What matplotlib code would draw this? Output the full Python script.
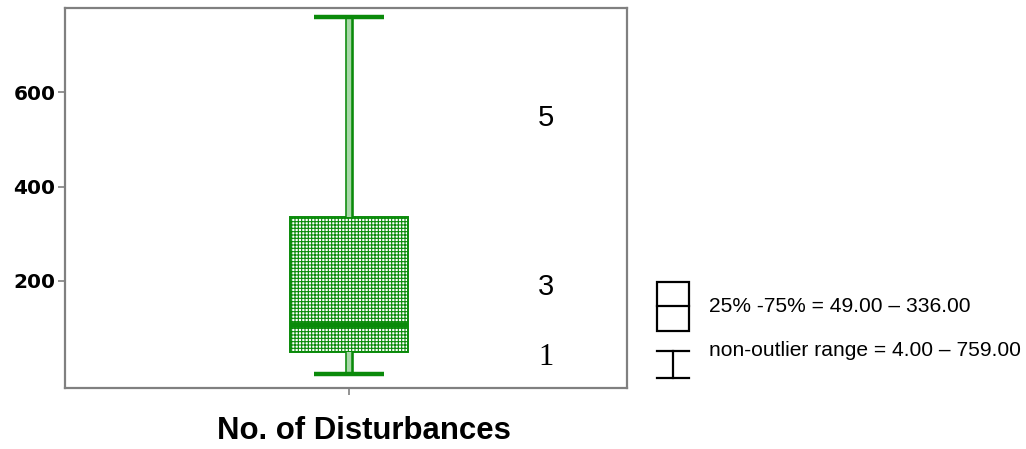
import matplotlib
matplotlib.use("Agg")
import matplotlib.pyplot as plt
import matplotlib.patheffects as pe
from matplotlib.patches import Rectangle
from matplotlib.lines import Line2D

# ---- data ----
variable = "No. of Disturbances"
q1 = 49.0
q3 = 336.0
median = 107.0
whisker_low = 4.0
whisker_high = 759.0
ytick_values = [200, 400, 600]
ytick_labels = ["200", "400", "600"]
marker_labels = ["5", "3", "1"]
marker_values = [545, 187, 39]
legend_texts = ["25% -75% = 49.00 \u2013 336.00",
                "non-outlier range = 4.00 \u2013 759.00"]

GREEN = "#0a8a0a"
GRAY = "#808080"

plt.rcParams["hatch.linewidth"] = 0.8
fig = plt.figure(figsize=(10.26, 4.49), dpi=100)
W, H = 1026, 449
ax = fig.add_axes([65 / W, 1 - 387.7 / H, (627 - 65) / W, (387.7 - 8) / H])

stats = [dict(med=median, q1=q1, q3=q3, whislo=whisker_low,
              whishi=whisker_high, fliers=[], label="")]
ax.bxp(stats, positions=[1], widths=0.21, capwidths=0.125, patch_artist=True,
       showfliers=False,
       boxprops=dict(facecolor="white", edgecolor=GREEN, linewidth=1.4,
                     hatch="+++++"),
       medianprops=dict(color=GREEN, linewidth=4.2, solid_capstyle="butt"),
       whiskerprops=dict(color="#a9d8a9", linewidth=3.2, solid_capstyle="butt",
                         path_effects=[pe.Stroke(linewidth=6.2, foreground=GREEN,
                                                 capstyle="butt"),
                                       pe.Normal()]),
       capprops=dict(color=GREEN, linewidth=3.2, solid_capstyle="butt"))

ax.set_xlim(0.4947, 1.4947)
ax.set_ylim(-26, 778)
ax.set_xticks([1.0])
ax.set_xticklabels([""])
ax.set_yticks(ytick_values)
ax.set_yticklabels(ytick_labels, fontfamily="DejaVu Sans", fontweight="bold",
                   fontsize=14.5)
ax.tick_params(axis="both", direction="out", length=5, width=1.2, color=GRAY,
               pad=2)
for s in ax.spines.values():
    s.set_color(GRAY)
    s.set_linewidth(1.6)

ax.set_xlabel(variable, fontfamily="Liberation Sans", fontweight="bold",
              fontsize=22.4, va="center")
ax.xaxis.set_label_coords((363.5 - 65) / 562, (387.7 - 431) / 379.7)

fams = ["Liberation Sans", "Liberation Sans", "Liberation Serif"]
sizes = [21, 21, 22]
for lab, val, fam, sz in zip(marker_labels, marker_values, fams, sizes):
    ax.text(0.855, val, lab, transform=ax.get_yaxis_transform(),
            ha="center", va="center", fontfamily=fam, fontsize=sz)

# ---- legend key on the right ----
def fx(x):
    return x / W

def fy(y):
    return 1 - y / H

fig.add_artist(Rectangle((fx(657), fy(331)), fx(689) - fx(657), fy(282) - fy(331),
                         transform=fig.transFigure, fill=False,
                         edgecolor="black", linewidth=1.6))
fig.add_artist(Line2D([fx(657), fx(689)], [fy(306), fy(306)],
                      transform=fig.transFigure, color="black", linewidth=1.6))
for yy in (351, 378):
    fig.add_artist(Line2D([fx(657), fx(689)], [fy(yy), fy(yy)],
                          transform=fig.transFigure, color="black", linewidth=1.6))
fig.add_artist(Line2D([fx(673), fx(673)], [fy(351), fy(378)],
                      transform=fig.transFigure, color="black", linewidth=1.6))
fig.text(fx(709), fy(306), legend_texts[0], ha="left", va="center",
         fontfamily="Liberation Sans", fontsize=15.1)
fig.text(fx(709), fy(350), legend_texts[1], ha="left", va="center",
         fontfamily="Liberation Sans", fontsize=15.1)

fig.savefig("out.png", dpi=100)
